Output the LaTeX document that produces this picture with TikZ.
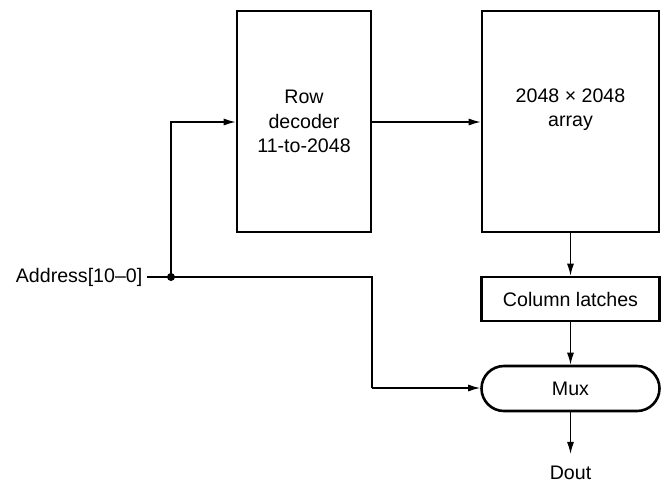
\documentclass[tikz,border=0pt]{standalone}
\usepackage{fontspec}
\setmainfont{Liberation Sans}
\usetikzlibrary{arrows.meta,shapes.misc}
\begin{document}
\begin{tikzpicture}[x=1pt,y=-1pt,
  font=\fontsize{19.6}{24.5}\selectfont,
  block/.style={draw, line width=2.6pt, rectangle, inner sep=0pt, align=center},
  wire/.style={line width=1.3pt},
  arr/.style={wire, -{Latex[length=12pt,width=7pt]}},
  dot/.style={circle, fill, inner sep=0pt, minimum size=8pt}]
  \useasboundingbox (0,0) rectangle (668,483);

  % blocks
  \node[block, minimum width=134pt, minimum height=221pt] (dec) at (304,121.5) {Row\\decoder\\11-to-2048};
  \node[block, minimum width=177pt, minimum height=221pt] (arr) at (570.5,121.5) {};
  \node[align=center, inner sep=0pt] (arrtxt) at (570.5,109.5) {2048 × 2048\\array};
  \node[block, minimum width=178pt, minimum height=44pt] (lat) at (570.5,299) {Column latches};
  \node[block, rounded rectangle, rounded rectangle arc length=180, minimum width=178pt, minimum height=45pt] (mux) at (570.5,388.5) {Mux};

  % terminals
  \node[anchor=east, inner sep=4.5pt] (addr) at (147,277) {Address[10–0]};
  \node[inner sep=1pt] (dout) at (570.5,473) {Dout};
  \node[dot] (j) at (171,277) {};
  \coordinate (ja) at (171,122);
  \coordinate (c1) at (372,277);
  \coordinate (c2) at (372,388);

  % connections
  \draw[wire] (addr.east) -- (j.center);
  \draw[arr] (j.center) -- (ja) -- (dec.west |- ja);
  \draw[arr] (dec.east |- ja) -- (arr.west |- ja);
  \draw[wire] (j.center) -- (c1) -- (c2);
  \draw[arr] (c2) -- (mux.west |- c2);
  \draw[arr] (arr.south) -- (lat.north);
  \draw[arr] (lat.south) -- (mux.north);
  \draw[arr] (mux.south) -- ([yshift=11pt]dout.north);
\end{tikzpicture}
\end{document}
